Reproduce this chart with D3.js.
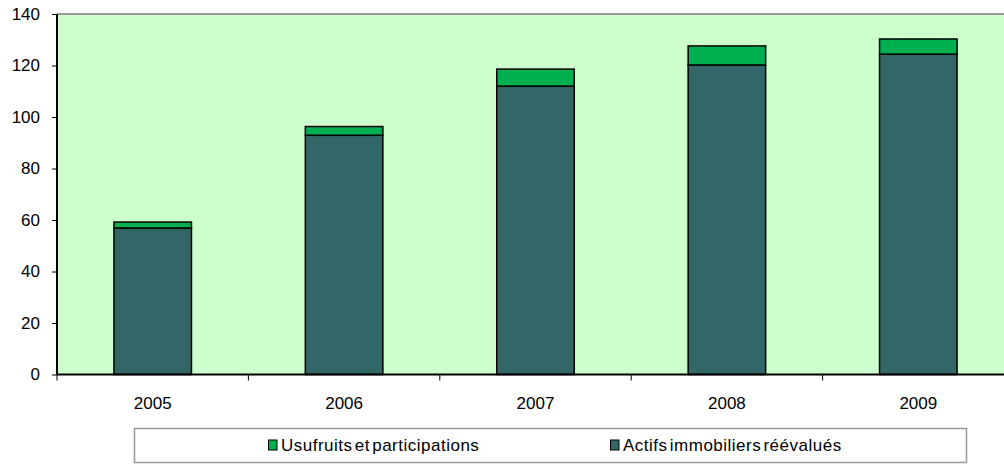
<!DOCTYPE html>
<html>
<head>
<meta charset="utf-8">
<script src="https://cdn.jsdelivr.net/npm/d3@7"></script>
<style>
  body { margin: 0; background: #fff; }
  text { font-family: "Liberation Sans", Arial, sans-serif; fill: #000; }
</style>
</head>
<body>
<div id="chart"></div>
<script>
var years = ["2005", "2006", "2007", "2008", "2009"]
var actifs = [56.9, 92.9, 112.0, 120.2, 124.4]
var usufruits = [2.3, 3.4, 6.6, 7.4, 5.9]
var yTicks = [0, 20, 40, 60, 80, 100, 120, 140]
var seriesNames = ["Usufruits et participations", "Actifs immobiliers réévalués"]

var width = 1004, height = 464
var plotLeft = 57, plotTop = 14, plotBottom = 374.5, plotRight = 1014

var svg = d3.select('#chart').append('svg')
  .attr('width', width)
  .attr('height', height)

var x = d3.scaleBand()
  .domain(years)
  .range([plotLeft, plotRight])
  .paddingInner(0.595)
  .paddingOuter(0.2975)

var y = d3.scaleLinear()
  .domain([0, 140])
  .range([plotBottom, plotTop])

// plot background
svg.append('rect')
  .attr('x', plotLeft)
  .attr('y', plotTop)
  .attr('width', width - plotLeft)
  .attr('height', plotBottom - plotTop)
  .attr('fill', '#ccffcc')

// grey top border
svg.append('line')
  .attr('x1', plotLeft).attr('x2', width)
  .attr('y1', plotTop).attr('y2', plotTop)
  .attr('stroke', '#999').attr('stroke-width', 2)

var rows = years.map(function(d, i){
  return {year: d, a: actifs[i], u: usufruits[i]}
})

var g = svg.append('g')

g.selectAll('.actifs')
  .data(rows)
  .enter()
  .append('rect')
  .attr('class', 'actifs')
  .attr('x', d => x(d.year))
  .attr('width', x.bandwidth())
  .attr('y', d => y(d.a))
  .attr('height', d => y(0) - y(d.a))
  .attr('fill', '#336666')
  .attr('stroke', '#000')
  .attr('stroke-width', 1.5)

g.selectAll('.usufruits')
  .data(rows)
  .enter()
  .append('rect')
  .attr('class', 'usufruits')
  .attr('x', d => x(d.year))
  .attr('width', x.bandwidth())
  .attr('y', d => y(d.a + d.u))
  .attr('height', d => y(d.a) - y(d.a + d.u))
  .attr('fill', '#00b050')
  .attr('stroke', '#000')
  .attr('stroke-width', 1.5)

// y axis
var yAxis = svg.append('g')
  .attr('transform', 'translate(' + plotLeft + ',0)')
  .call(d3.axisLeft(y).tickValues(yTicks).tickSize(5).tickPadding(12))
yAxis.select('.domain').attr('stroke', '#000').attr('stroke-width', 2)
  .attr('d', 'M0,' + plotTop + 'V' + plotBottom)
yAxis.selectAll('text').style('font-size', '17px').style('font-family', '"Liberation Sans", Arial, sans-serif')

// x axis
var xAxis = svg.append('g')
  .attr('transform', 'translate(0,' + plotBottom + ')')
  .call(d3.axisBottom(x).tickSize(0).tickPadding(22))
xAxis.select('.domain').attr('stroke', '#000').attr('stroke-width', 2)
  .attr('d', 'M' + plotLeft + ',0H' + width)
xAxis.selectAll('text').style('font-size', '17px').style('font-family', '"Liberation Sans", Arial, sans-serif')

// category boundary ticks
var step = x.step()
svg.append('g').selectAll('line')
  .data(d3.range(years.length + 1))
  .enter()
  .append('line')
  .attr('x1', i => plotLeft + i * step)
  .attr('x2', i => plotLeft + i * step)
  .attr('y1', plotBottom)
  .attr('y2', plotBottom + 6)
  .attr('stroke', '#000')
  .attr('stroke-width', 1)

// legend
var legend = svg.append('g')
legend.append('rect')
  .attr('x', 134.5).attr('y', 428.5)
  .attr('width', 832).attr('height', 34)
  .attr('fill', '#fff')
  .attr('stroke', '#999').attr('stroke-width', 1.5)

var legendColors = ['#00b050', '#336666']
var legendX = [268, 610]
var items = legend.selectAll('.item')
  .data(seriesNames)
  .enter()
  .append('g')
  .attr('transform', (d, i) => 'translate(' + legendX[i] + ',445)')
items.append('rect')
  .attr('x', 0.5).attr('y', -5)
  .attr('width', 8.5).attr('height', 10)
  .attr('fill', (d, i) => legendColors[i])
  .attr('stroke', '#000').attr('stroke-width', 1)
items.append('text')
  .attr('x', 13)
  .attr('dy', '0.35em')
  .style('font-size', '17px')
  .style('letter-spacing', '0.5px')
  .style('word-spacing', '-3px')
  .text(d => d)
</script>
</body>
</html>
